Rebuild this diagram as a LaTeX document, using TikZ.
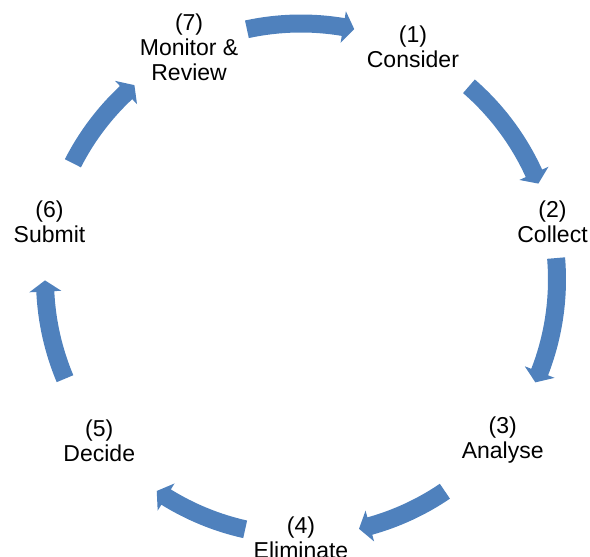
\documentclass[tikz,border=0pt]{standalone}
\usepackage{fontspec}
\setmainfont{Liberation Sans}
\usetikzlibrary{calc}
\definecolor{arrowblue}{RGB}{79,129,189}
% tail angle, tip angle (clockwise block arc around C)
\newcommand\cycarrow[2]{%
  \fill[blockarrow, shift={(C)}]
    (#1:265pt) arc[start angle=#1, end angle={#2+2.5}, radius=265pt]
    -- ({#2+2.5}:272pt) -- (#2:256pt) -- ({#2+2.5}:240pt)
    -- ({#2+2.5}:247pt) arc[start angle={#2+2.5}, end angle=#1, radius=247pt]
    -- cycle;}
\begin{document}
\begin{tikzpicture}[x=1pt,y=1pt,
  lbl/.style={font=\fontsize{23}{25}\selectfont, align=center, text=black, inner sep=0pt},
  blockarrow/.style={fill=arrowblue, draw=none}]
\useasboundingbox (0,0) rectangle (590,557);
\coordinate (C) at (301,277.5);
% labels
\node[lbl] (n1) at ($(C)+(64.29:258pt)$) {(1)\\Consider};
\node[lbl] (n2) at ($(C)+(12.86:258pt)$) {(2)\\Collect};
\node[lbl] (n3) at ($(C)+(-38.57:258pt)$) {(3)\\Analyse};
\node[lbl] (n4) at ($(C)+(-90:258pt)$) {(4)\\Eliminate};
\node[lbl] (n5) at ($(C)+(-141.43:258pt)$) {(5)\\Decide};
\node[lbl] (n6) at ($(C)+(167.14:258pt)$) {(6)\\Submit};
\node[lbl] (n7) at ($(C)+(115.71:258pt)$) {(7)\\Monitor \&\\Review};
% block arc arrows
\cycarrow{102.2}{78.0}
\cycarrow{49.0}{22.0}
\cycarrow{4.8}{-23.7}
\cycarrow{-55.8}{-76.9}
\cycarrow{-102.6}{-124.3}
\cycarrow{-157.2}{-179.8}
\cycarrow{153.0}{130.6}
\end{tikzpicture}
\end{document}
